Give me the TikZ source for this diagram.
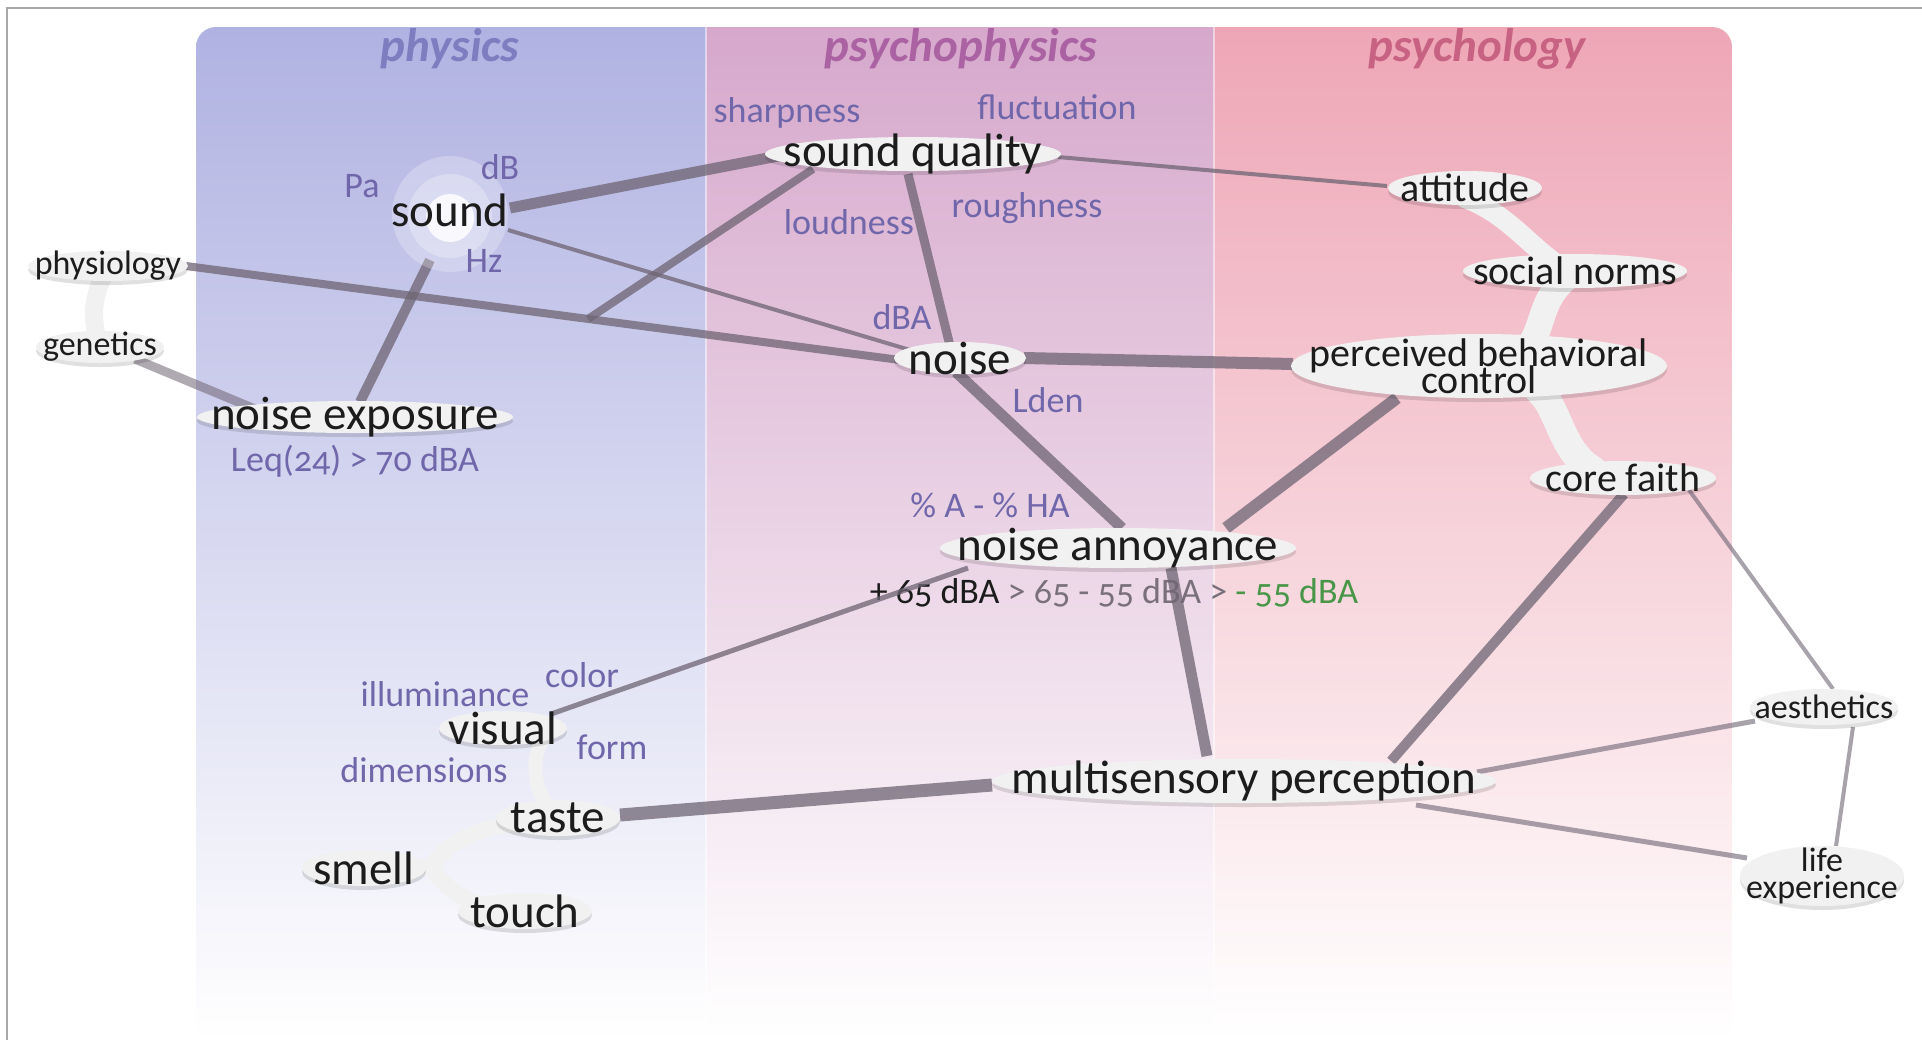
\documentclass[tikz,border=0pt]{standalone}
\usepackage{fontspec}
\setmainfont{Carlito}[Numbers=OldStyle]
\usetikzlibrary{calc}
\pgfdeclarelayer{panel}
\pgfdeclarelayer{lowtext}
\pgfdeclarelayer{edges}
\pgfdeclarelayer{blobs}
\pgfsetlayers{panel,lowtext,edges,blobs,main}
\definecolor{physTop}{RGB}{176,178,226}
\definecolor{psyphTop}{RGB}{214,168,204}
\definecolor{psyTop}{RGB}{238,166,182}
\definecolor{edgecol}{RGB}{110,100,115}
\definecolor{blobcol}{RGB}{241,241,241}
\definecolor{attrcol}{RGB}{112,102,170}
\definecolor{txtcol}{RGB}{28,28,28}
\definecolor{physT}{RGB}{125,125,192}
\definecolor{psyphT}{RGB}{170,98,162}
\definecolor{psyT}{RGB}{200,98,130}
\definecolor{lvlgray}{RGB}{122,112,124}
\definecolor{lvlgreen}{RGB}{72,150,72}
\newcommand\tightlines{\lineskiplimit=-100pt\relax\lineskip=0pt\relax}
\newcommand\blobat[3]{%
  \fill[black, opacity=0.12] ($(#1)+(0,4)$) ellipse [x radius=#2, y radius=#3];
  \fill[blobcol] (#1) ellipse [x radius=#2, y radius=#3];}
\begin{document}
\begin{tikzpicture}[x=0.5pt,y=-0.5pt,
  big/.style={inner sep=0pt, text=txtcol, font=\fontsize{23.5}{26}\selectfont},
  mid/.style={inner sep=0pt, text=txtcol, font={\fontsize{20}{13.5}\selectfont\tightlines}},
  small/.style={inner sep=0pt, text=txtcol, font={\fontsize{17}{13.5}\selectfont\tightlines}},
  attr/.style={inner sep=0pt, text=attrcol, font=\fontsize{18}{20}\selectfont},
  title/.style={inner sep=0pt, font=\fontsize{23.5}{26}\selectfont\bfseries\itshape},
  edge/.style={draw=edgecol, draw opacity=0.75, line cap=butt},
  band/.style={draw=blobcol, line cap=round}]
\useasboundingbox (0,0) rectangle (1922,1040);
\begin{pgfonlayer}{panel}
\fill[white] (0,0) rectangle (1922,1040);
\begin{scope}
\clip[rounded corners=10pt] (196,27) rectangle (1732,1120);
\shade[top color=physTop, bottom color=white] (196,27) rectangle (706,1040);
\shade[top color=psyphTop, bottom color=white] (706,27) rectangle (1214,1040);
\shade[top color=psyTop, bottom color=white] (1214,27) rectangle (1732,1040);
\draw[white, opacity=0.5, line width=1pt] (706,27) -- (706,1040);
\draw[white, opacity=0.5, line width=1pt] (1214,27) -- (1214,1040);
\end{scope}
\draw[gray!70, line width=1pt] (7,1040) -- (7,8) -- (1922,8);
\end{pgfonlayer}

% titles
\node[title, text=physT] (tphys) at (450,49) {physics};
\node[title, text=psyphT] (tpsyph) at (961,49) {psychophysics};
\node[title, text=psyT] (tpsy) at (1477,49) {psychology};

% main nodes
\node[big] (snd) at (450,210) {sound};
\node[big] (sq) at (913,154) {sound quality};
\node[big] (noise) at (960,358) {noise};
\node[big] (na) at (1118,548) {noise annoyance};
\node[big] (ms) at (1244,781) {multisensory perception};
\node[big] (nexp) at (355,417) {noise exposure};
\node[big] (vis) at (503,728) {visual};
\node[big] (taste) at (558,818) {taste};
\node[big] (smell) at (364,868) {smell};
\node[big] (touch) at (525,911) {touch};
\node[mid] (att) at (1465,188) {attitude};
\node[mid] (sn) at (1575,271) {social norms};
\node[mid, align=center] (pbc) at (1479,366) {perceived behavioral\\control};
\node[mid] (cf) at (1623,478) {core faith};
\node[small] (phys) at (108,266) {physiology};
\node[small] (gen) at (100,347) {genetics};
\node[small] (aes) at (1824,707) {aesthetics};
\node[small, align=center] (life) at (1822,876) {life\\experience};

% attribute labels
\node[attr] (pa) at (362,186) {Pa};
\node[attr] (db) at (500,167) {dB};
\node[attr] (hz) at (484,261) {Hz};
\node[attr] (leq) at (355,461) {Leq(24) > 70 dBA};
\node[attr] (sharp) at (787,113) {sharpness};
\node[attr] (fluct) at (1057,107) {fluctuation};
\node[attr] (loud) at (849,222) {loudness};
\node[attr] (rough) at (1027,208) {roughness};
\node[attr] (dba) at (902,317) {dBA};
\node[attr] (lden) at (1048,400) {Lden};
\node[attr] (pha) at (990,505) {\% A - \% HA};
\node[attr] (color) at (582,675) {color};
\node[attr] (illum) at (445,694) {illuminance};
\node[attr] (form) at (612,747) {form};
\node[attr] (dim) at (424,770) {dimensions};

\begin{pgfonlayer}{lowtext}
\node[inner sep=0pt, font=\fontsize{18}{20}\selectfont] (lvl) at (1114,593)
  {\textcolor{txtcol}{+ 65 dBA} \textcolor{lvlgray}{> 65 - 55 dBA >} \textcolor{lvlgreen}{- 55 dBA}};
\end{pgfonlayer}

\coordinate (j) at (588,319);

\begin{pgfonlayer}{edges}
\draw[edge, line width=5.5pt] ($(snd)+(60,-2)$) -- ($(sq)+(-135,2)$);
\draw[edge, line width=2pt] ($(snd)+(58,20)$) -- ($(noise)+(-50,-8)$);
\draw[edge, line width=5pt] ($(snd)+(-20,50)$) -- ($(nexp)+(5,-15)$);
\draw[edge, line width=4pt] ($(phys)+(78,0)$) -- ($(noise)+(-60,2)$);
\draw[edge, line width=4.5pt, draw opacity=0.55] ($(gen)+(35,12)$) -- ($(nexp)+(-100,-8)$);
\draw[edge, line width=4pt] ($(sq)+(-100,15)$) -- (j);
\draw[edge, line width=4.5pt] ($(sq)+(-5,20)$) -- ($(noise)+(-10,-12)$);
\draw[edge, line width=2pt] ($(sq)+(145,3)$) -- ($(att)+(-78,-2)$);
\draw[edge, line width=6pt] ($(noise)+(64,0)$) -- ($(pbc)+(-186,-2)$);
\draw[edge, line width=5.5pt] ($(noise)+(-4,14)$) -- ($(na)+(4,-20)$);
\draw[edge, line width=6pt] ($(na)+(108,-20)$) -- ($(pbc)+(-82,32)$);
\draw[edge, line width=5.5pt] ($(na)+(53,20)$) -- ($(ms)+(-37,-25)$);
\draw[edge, line width=2.5pt] ($(vis)+(48,-14)$) -- ($(na)+(-150,20)$);
\draw[edge, line width=6.5pt] ($(taste)+(62,-3)$) -- ($(ms)+(-252,4)$);
\draw[edge, line width=5pt] ($(cf)+(1,16)$) -- ($(ms)+(147,-20)$);
\draw[edge, line width=2pt, draw opacity=0.6] ($(cf)+(66,12)$) -- ($(aes)+(9,-18)$);
\draw[edge, line width=2.5pt, draw opacity=0.6] ($(ms)+(233,-9)$) -- ($(aes)+(-69,14)$);
\draw[edge, line width=2.5pt, draw opacity=0.6] ($(ms)+(172,24)$) -- ($(life)+(-75,-18)$);
\draw[edge, line width=2pt, draw opacity=0.6] ($(aes)+(29,20)$) -- ($(life)+(14,-30)$);
\end{pgfonlayer}

\begin{pgfonlayer}{blobs}
% sound halo
\fill[white, opacity=0.25] ($(snd)+(0,4)$) circle [radius=58];
\fill[white, opacity=0.28] ($(snd)+(0,6)$) circle [radius=42];
\fill[white, opacity=0.85] ($(snd)+(0,8)$) circle [radius=24];
% bands
\draw[band, line width=9pt] ($(phys)+(-5,10)$) .. controls ($(phys)+(-15,35)$) and ($(gen)+(-8,-35)$) .. ($(gen)+(-3,-8)$);
\draw[band, line width=10pt] ($(att)+(0,10)$) .. controls ($(att)+(40,25)$) and ($(sn)+(-50,-30)$) .. ($(sn)+(-20,-8)$);
\draw[band, line width=13pt] ($(sn)+(-10,8)$) .. controls ($(sn)+(-35,30)$) and ($(pbc)+(65,-40)$) .. ($(pbc)+(50,-20)$);
\draw[band, line width=14pt] ($(pbc)+(60,25)$) .. controls ($(pbc)+(81,44)$) and ($(cf)+(-63,-28)$) .. ($(cf)+(-30,-8)$);
\draw[band, line width=7pt] ($(vis)+(40,10)$) .. controls ($(vis)+(27,32)$) and ($(taste)+(-23,-28)$) .. ($(taste)+(-10,-10)$);
\draw[band, line width=8pt] ($(taste)+(-40,5)$) .. controls ($(taste)+(-83,10)$) and ($(smell)+(81,-23)$) .. ($(smell)+(68,-2)$);
\draw[band, line width=8pt] ($(smell)+(68,-2)$) .. controls ($(smell)+(76,17)$) and ($(touch)+(-65,-13)$) .. ($(touch)+(-40,-5)$);
\draw[band, line width=8pt] ($(smell)+(40,0)$) -- ($(smell)+(68,-2)$);
% ellipses
\blobat{sq}{148}{17}
\blobat{noise}{66}{16}
\blobat{na}{178}{20}
\blobat{ms}{252}{22}
\blobat{nexp}{158}{16}
\blobat{vis}{64}{17}
\blobat{taste}{62}{18}
\blobat{smell}{62}{18}
\blobat{touch}{67}{18}
\blobat{att}{77}{17}
\blobat{sn}{112}{17}
\blobat{pbc}{188}{32}
\blobat{cf}{93}{17}
\blobat{phys}{80}{15}
\blobat{gen}{64}{16}
\blobat{aes}{74}{18}
\blobat{life}{82}{30}
\end{pgfonlayer}
\end{tikzpicture}
\end{document}
